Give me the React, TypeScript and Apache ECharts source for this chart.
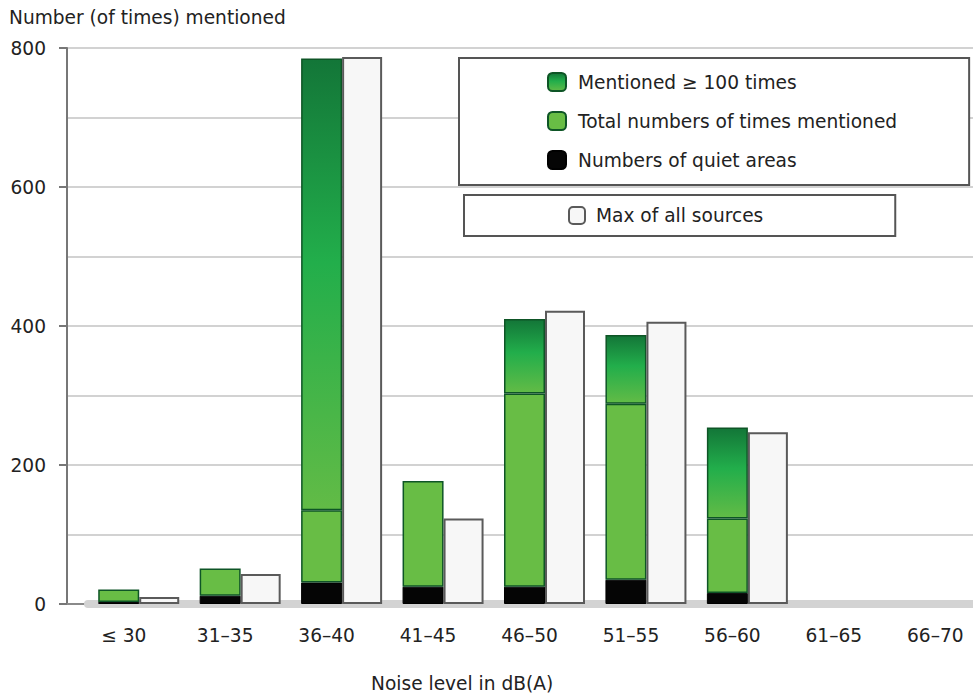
import React, { useEffect, useRef } from "react";
import * as echarts from "echarts";

// Noise level bands (dB(A))
const categories = ["≤ 30", "31–35", "36–40", "41–45", "46–50", "51–55", "56–60", "61–65", "66–70"];
// Height of the black base: number of quiet areas
const quietAreas = [3, 12, 31, 25, 25, 35, 16, 0, 0];
// Level reached by the light green part (total number of times mentioned)
const totalMentioned = [21, 51, 135, 177, 303, 288, 123, 0, 0];
// Level reached by the full bar including the part mentioned ≥ 100 times
const barTop = [21, 51, 785, 177, 410, 387, 254, 0, 0];
// Max of all sources (white bars)
const maxOfAllSources = [10, 43, 787, 123, 422, 406, 247, 0, 0];

const FONT = "'DejaVu Sans', Verdana, sans-serif";
const TEXT = "#222";
const FS = 18.6;

// The plot runs past the right edge of the visible frame
const CANVAS_W = 1010;
const VIEW_W = 973;
const VIEW_H = 695;

const nz = (v: number) => (v > 0 ? v : null);

export default function App() {
  const ref = useRef<HTMLDivElement>(null);

  useEffect(() => {
    if (!ref.current) return;
    const chart = echarts.init(ref.current, undefined, { renderer: "svg" });

    const quietSeg = quietAreas.map(nz);
    const totalSeg = totalMentioned.map((v, i) => nz(v - quietAreas[i]));
    const over100Seg = barTop.map((v, i) => nz(v - totalMentioned[i]));
    const maxSeg = maxOfAllSources.map(nz);

    const greenGradient = new echarts.graphic.LinearGradient(0, 0, 0, 1, [
      { offset: 0, color: "#137638" },
      { offset: 0.45, color: "#22ae4b" },
      { offset: 1, color: "#62bb46" },
    ]);
    const greenBorder = "#0e5526";

    const barBase = {
      type: "bar" as const,
      xAxisIndex: 1,
      yAxisIndex: 1,
      barGap: "0%",
    };

    chart.setOption({
      animation: false,
      textStyle: { fontFamily: FONT },
      title: [
        {
          text: "Number (of times) mentioned",
          left: 9,
          top: 8,
          padding: 0,
          textStyle: { fontSize: FS, fontWeight: "normal", color: TEXT, fontFamily: FONT },
        },
        {
          text: "Noise level in dB(A)",
          left: 371,
          top: 674,
          padding: 0,
          textStyle: { fontSize: FS, fontWeight: "normal", color: TEXT, fontFamily: FONT },
        },
      ],
      grid: [
        { left: 67, right: CANVAS_W - VIEW_W, top: 48, bottom: 91 },
        { left: 88, width: 913, top: 48, bottom: 91 },
      ],
      legend: [
        {
          data: [
            { name: "Mentioned ≥ 100 times" },
            { name: "Total numbers of times mentioned" },
            { name: "Numbers of quiet areas" },
          ],
          orient: "vertical",
          left: 459,
          top: 58,
          padding: [14, 72, 15, 88],
          itemGap: 19,
          itemWidth: 18,
          itemHeight: 18,
          icon: "roundRect",
          selectedMode: false,
          backgroundColor: "#fff",
          borderColor: "#555",
          borderWidth: 2,
          textStyle: { fontSize: FS, color: TEXT, fontFamily: FONT, padding: [0, 0, 0, 7] },
        },
        {
          data: [{ name: "Max of all sources" }],
          left: 464,
          top: 195,
          padding: [11, 132, 11, 104],
          itemWidth: 16,
          itemHeight: 17,
          icon: "roundRect",
          selectedMode: false,
          backgroundColor: "#fff",
          borderColor: "#555",
          borderWidth: 2,
          textStyle: { fontSize: FS, color: TEXT, fontFamily: FONT, padding: [0, 0, 0, 6] },
        },
      ],
      xAxis: [
        {
          gridIndex: 0,
          type: "value",
          min: 0,
          max: 1,
          axisLine: { show: true, onZero: false, lineStyle: { color: "#8a8a8a", width: 2 } },
          axisTick: { show: false },
          axisLabel: { show: false },
          splitLine: { show: false },
        },
        {
          gridIndex: 1,
          type: "category",
          data: categories,
          offset: 4,
          axisLine: { show: true, lineStyle: { color: "#d3d3d3", width: 8 } },
          axisTick: { show: false },
          axisLabel: {
            margin: 18,
            fontSize: FS,
            color: TEXT,
            fontFamily: FONT,
            padding: [0, 30, 0, 0],
          },
        },
      ],
      yAxis: [
        {
          gridIndex: 0,
          type: "value",
          min: 0,
          max: 800,
          interval: 200,
          axisLine: { show: true, lineStyle: { color: "#777", width: 2 } },
          axisTick: { show: true, length: 8, lineStyle: { color: "#777", width: 2 } },
          axisLabel: { margin: 21, fontSize: FS, color: TEXT, fontFamily: FONT },
          splitLine: { show: true, lineStyle: { color: "#d2d2d2", width: 2 } },
          minorTick: { show: false, splitNumber: 2 },
          minorSplitLine: { show: true, lineStyle: { color: "#d2d2d2", width: 2 } },
        },
        { gridIndex: 1, type: "value", min: 0, max: 800, show: false },
      ],
      series: [
        {
          ...barBase,
          name: "Numbers of quiet areas",
          stack: "mentions",
          barWidth: 41,
          data: quietSeg,
          itemStyle: { color: "#050505", borderColor: "#000", borderWidth: 1 },
        },
        {
          ...barBase,
          name: "Total numbers of times mentioned",
          stack: "mentions",
          barWidth: 41,
          data: totalSeg,
          itemStyle: { color: "#68bd45", borderColor: greenBorder, borderWidth: 1.5 },
        },
        {
          ...barBase,
          name: "Mentioned ≥ 100 times",
          stack: "mentions",
          barWidth: 41,
          data: over100Seg,
          itemStyle: { color: greenGradient, borderColor: greenBorder, borderWidth: 1.5 },
        },
        {
          ...barBase,
          name: "Max of all sources",
          barWidth: 40,
          data: maxSeg,
          itemStyle: { color: "#f7f7f7", borderColor: "#5a5a5a", borderWidth: 2 },
        },
      ],
    });

    return () => chart.dispose();
  }, []);

  return (
    <div
      style={{
        position: "fixed",
        left: 0,
        top: 0,
        width: VIEW_W,
        height: VIEW_H,
        overflow: "hidden",
        background: "#fff",
      }}
    >
      <div ref={ref} style={{ width: CANVAS_W, height: VIEW_H }} />
    </div>
  );
}
